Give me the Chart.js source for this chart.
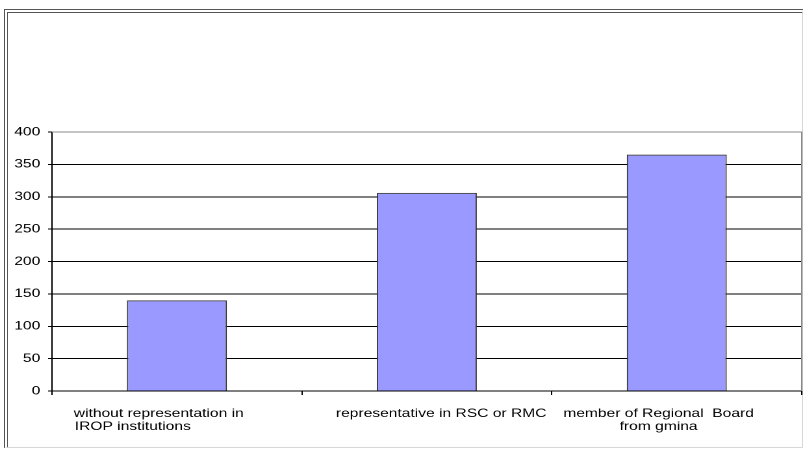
<!DOCTYPE html>
<html>
<head>
<meta charset="utf-8">
<script src="https://cdn.jsdelivr.net/npm/chart.js@4/dist/chart.umd.min.js"></script>
<style>
  html, body { margin: 0; padding: 0; background: #fff; overflow: hidden; }
  #frame {
    position: absolute; left: 4px; top: 9px; width: 799px; height: 439px;
    box-sizing: border-box;
    border-left: 4px double #555; border-top: 4px double #555;
    border-right: 1px solid #d8d8d8; border-bottom: 1px solid #d8d8d8;
  }
  /* the original picture is stretched sideways, so is this one */
  #wrap {
    position: absolute; left: 0; top: 0; width: 618px; height: 450px;
    transform: scaleX(1.2994); transform-origin: 0 0;
  }
</style>
</head>
<body>
<div id="frame"></div>
<div id="wrap"><canvas id="chart"></canvas></div>
<script>
// Data
const categories = [
  ["without representation in", "IROP institutions            "],
  "               representative in RSC or RMC",
  ["member of Regional  Board", "from gmina"],
];
const values = [140, 306, 365];
const yTicks = [0, 50, 100, 150, 200, 250, 300, 350, 400];

const font = { family: "'Liberation Sans', Arial, sans-serif", size: 12, lineHeight: 1.1 };

// plot area edge (top and right), light grey like the original
const plotEdge = {
  id: "plotEdge",
  beforeDatasetsDraw(chart) {
    const { ctx, chartArea: a } = chart;
    ctx.save();
    ctx.strokeStyle = "#888";
    ctx.lineWidth = 1;
    ctx.beginPath();
    ctx.moveTo(a.left, a.top);
    ctx.lineTo(a.right, a.top);
    ctx.lineTo(a.right, a.bottom);
    ctx.stroke();
    ctx.restore();
  },
};

const ctx = document.getElementById("chart").getContext("2d");
new Chart(ctx, {
  type: "bar",
  data: {
    labels: categories,
    datasets: [
      {
        data: values,
        backgroundColor: "#9999ff",
        borderColor: "#333",
        borderWidth: 1,
        categoryPercentage: 1,
        barPercentage: 0.4,
      },
    ],
  },
  options: {
    responsive: true,
    maintainAspectRatio: false,
    animation: false,
    devicePixelRatio: 2,
    layout: { padding: { top: 132, right: 1, left: 0, bottom: 0 } },
    plugins: { legend: { display: false }, tooltip: { enabled: false } },
    scales: {
      x: {
        grid: { offset: true, drawOnChartArea: false, color: "#000", tickLength: 4 },
        border: { color: "#000" },
        ticks: { color: "#000", font, padding: 12, labelOffset: -14, maxRotation: 0, autoSkip: false },
        afterFit: (s) => { s.height = 59; },
      },
      y: {
        min: 0,
        max: 400,
        afterBuildTicks: (s) => { s.ticks = yTicks.map((v) => ({ value: v })); },
        grid: { color: "#000", tickLength: 3 },
        border: { color: "#000" },
        ticks: { color: "#000", font, padding: 6 },
        afterFit: (s) => { s.width = 40; },
      },
    },
  },
  plugins: [plotEdge],
});
</script>
</body>
</html>
